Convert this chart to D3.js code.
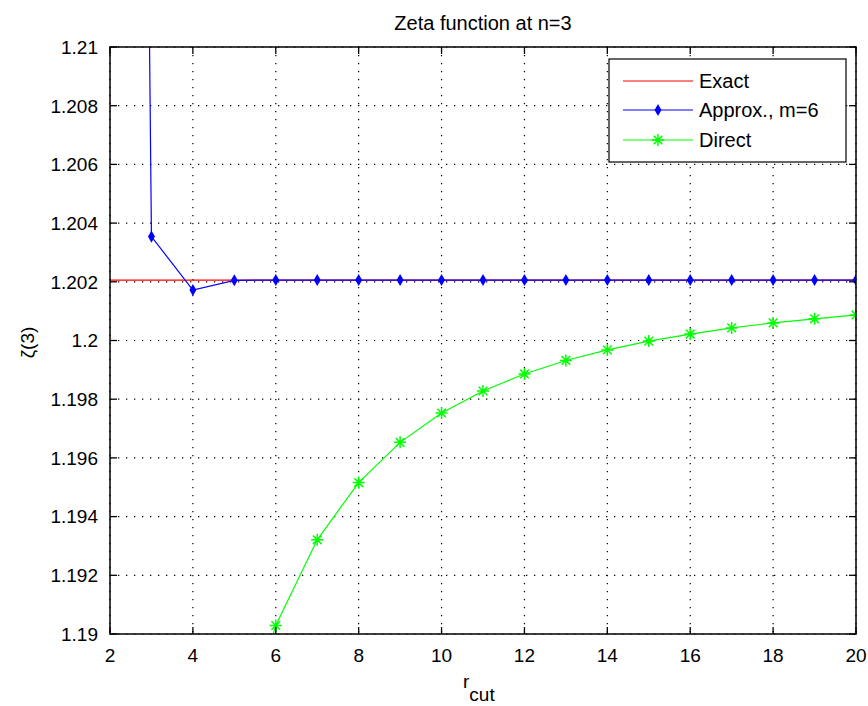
<!DOCTYPE html>
<html><head><meta charset="utf-8">
<script src="https://cdn.jsdelivr.net/npm/d3@7"></script>
<style>
body{margin:0;background:#fff;}
text{font-family:"Liberation Sans",Arial,sans-serif;fill:#000;}
</style></head>
<body><svg id="chart" width="868" height="706"></svg>
<script>
const rCut = [2,3,4,5,6,7,8,9,10,11,12,13,14,15,16,17,18,19,20];
const exactValue = 1.2020569;
const approxValues = [1.345,1.20354,1.20172,1.20205,1.20206,1.20206,1.20206,1.20206,1.20206,1.20206,1.20206,1.20206,1.20206,1.20206,1.20206,1.20206,1.20206,1.20206,1.20206];
const directValues = [1.125,1.16204,1.17766,1.18566,1.19029,1.19321,1.19516,1.19653,1.19753,1.19828,1.19886,1.19932,1.19968,1.19998,1.20022,1.20043,1.20060,1.20074,1.20087];
const xTicks = [2,4,6,8,10,12,14,16,18,20];
const yTicks = [1.19,1.192,1.194,1.196,1.198,1.2,1.202,1.204,1.206,1.208,1.21];
const yTickLabels = ["1.19","1.192","1.194","1.196","1.198","1.2","1.202","1.204","1.206","1.208","1.21"];
const legendNames = ["Exact","Approx., m=6","Direct"];

const L=110,T=47,R=856,B=634;
const svg=d3.select("#chart");
const x=d3.scaleLinear().domain([2,20]).range([L,R]);
const y=d3.scaleLinear().domain([1.19,1.21]).range([B,T]);
const FS=19;

// grid
const g=svg.append("g");
g.selectAll(".gx").data(xTicks).join("line")
 .attr("x1",d=>x(d)).attr("x2",d=>x(d)).attr("y1",T).attr("y2",B)
 .attr("stroke","#000").attr("stroke-width",1.2).attr("stroke-dasharray","1.3,6.7");
g.selectAll(".gy").data(yTicks).join("line")
 .attr("y1",d=>y(d)).attr("y2",d=>y(d)).attr("x1",L).attr("x2",R)
 .attr("stroke","#000").attr("stroke-width",1.2).attr("stroke-dasharray","1.3,6.7");

// clip
svg.append("clipPath").attr("id","clip").append("rect").attr("x",L).attr("y",T).attr("width",R-L).attr("height",B-T);
const data=svg.append("g").attr("clip-path","url(#clip)");
const line=d3.line().x(d=>x(d[0])).y(d=>y(d[1]));

const exactPts=rCut.map(r=>[r,exactValue]);
data.append("path").attr("d",line(exactPts)).attr("fill","none").attr("stroke","#ff0000").attr("stroke-width",1.2);

const approxPts=rCut.map((r,i)=>[r,approxValues[i]]);
data.append("path").attr("d",line(approxPts)).attr("fill","none").attr("stroke","#0000ff").attr("stroke-width",1.2);
const diamond=d3.symbol().type(d3.symbolDiamond).size(42);
data.selectAll(".am").data(approxPts).join("path")
 .attr("transform",d=>`translate(${x(d[0])},${y(d[1])})`).attr("d",diamond).attr("fill","#0000ff");

const directPts=rCut.map((r,i)=>[r,directValues[i]]);
data.append("path").attr("d",line(directPts)).attr("fill","none").attr("stroke","#00ff00").attr("stroke-width",1.2);
function star(s){const a=s*0.72;return `M${-s},0L${s},0M0,${-s}L0,${s}M${-a},${-a}L${a},${a}M${-a},${a}L${a},${-a}`;}
data.selectAll(".dm").data(directPts).join("path")
 .attr("transform",d=>`translate(${x(d[0])},${y(d[1])})`).attr("d",star(6)).attr("fill","none").attr("stroke","#00ff00").attr("stroke-width",1.5);

// axes box and ticks
const ax=svg.append("g");
const tl=7;
xTicks.forEach(v=>{
 ax.append("line").attr("x1",x(v)).attr("x2",x(v)).attr("y1",B).attr("y2",B-tl).attr("stroke","#000").attr("stroke-width",1.3);
 ax.append("line").attr("x1",x(v)).attr("x2",x(v)).attr("y1",T).attr("y2",T+tl).attr("stroke","#000").attr("stroke-width",1.3);
 ax.append("text").attr("x",x(v)).attr("y",B+28).attr("text-anchor","middle").attr("font-size",FS).text(v);
});
yTicks.forEach((v,i)=>{
 ax.append("line").attr("x1",L).attr("x2",L+tl).attr("y1",y(v)).attr("y2",y(v)).attr("stroke","#000").attr("stroke-width",1.3);
 ax.append("line").attr("x1",R).attr("x2",R-tl).attr("y1",y(v)).attr("y2",y(v)).attr("stroke","#000").attr("stroke-width",1.3);
 ax.append("text").attr("x",L-12).attr("y",y(v)).attr("dy","0.36em").attr("text-anchor","end").attr("font-size",FS).text(yTickLabels[i]);
});
ax.append("rect").attr("x",L).attr("y",T).attr("width",R-L).attr("height",B-T).attr("fill","none").attr("stroke","#000").attr("stroke-width",1.5);

// title & labels
svg.append("text").attr("x",(L+R)/2).attr("y",30).attr("text-anchor","middle").attr("font-size",20).text("Zeta function at n=3");
const xl=svg.append("text").attr("x",463).attr("y",688).attr("font-size",FS);
xl.append("tspan").text("r");
xl.append("tspan").attr("dy",13).attr("font-size",FS).text("cut");
svg.append("text").attr("transform",`translate(34,${(T+B)/2+2}) rotate(-90)`).attr("text-anchor","middle").attr("font-size",FS).text("ζ(3)");

// legend
const lg=svg.append("g");
lg.append("rect").attr("x",609).attr("y",59).attr("width",237).attr("height",103).attr("fill","#fff").attr("stroke","#000").attr("stroke-width",1.2);
const colors=["#ff0000","#0000ff","#00ff00"];
const ly=[81,110,140];
legendNames.forEach((n,i)=>{
 lg.append("line").attr("x1",623).attr("x2",693).attr("y1",ly[i]).attr("y2",ly[i]).attr("stroke",colors[i]).attr("stroke-width",1.2);
 if(i===1) lg.append("path").attr("transform",`translate(658,${ly[i]})`).attr("d",diamond).attr("fill","#0000ff");
 if(i===2) lg.append("path").attr("transform",`translate(658,${ly[i]})`).attr("d",star(6)).attr("fill","none").attr("stroke","#00ff00").attr("stroke-width",1.5);
 lg.append("text").attr("x",699).attr("y",ly[i]).attr("dy","0.36em").attr("font-size",20).text(n);
});
</script></body></html>
